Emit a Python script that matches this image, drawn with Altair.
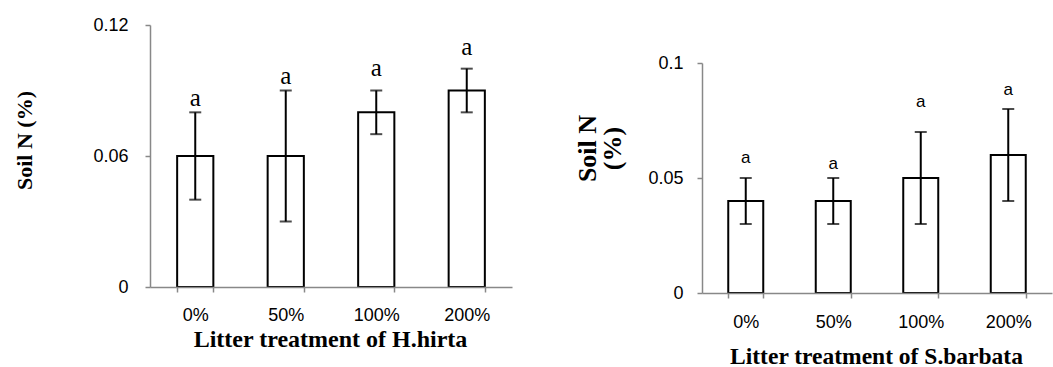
import altair as alt
import pandas as pd

categories = ["0%", "50%", "100%", "200%"]

# Left panel: H.hirta
left_means = [0.06, 0.06, 0.08, 0.09]
left_low = [0.04, 0.03, 0.07, 0.08]
left_high = [0.08, 0.09, 0.09, 0.10]
left_letters = ["a", "a", "a", "a"]
left_letter_y = [0.0866, 0.0966, 0.1003, 0.110]
left_ticks = [0, 0.06, 0.12]

# Right panel: S.barbata
right_means = [0.04, 0.04, 0.05, 0.06]
right_low = [0.03, 0.03, 0.03, 0.04]
right_high = [0.05, 0.05, 0.07, 0.08]
right_letters = ["a", "a", "a", "a"]
right_letter_y = [0.0586, 0.0563, 0.0829, 0.0881]
right_ticks = [0, 0.05, 0.1]

AXIS_GRAY = "#888888"


def panel(means, low, high, letters, letter_y, xrange, yrange, ydomain, yticks,
          yoffset, ylabelpad, ytitle, ytitlesize, ytitlex, ytitley,
          xoffset, xlabelpad, xtitle, xtitlesize, xtitlex, xtitley,
          letter_font, letter_size):
    df = pd.DataFrame({
        "cat": categories,
        "mean": means,
        "lo": low,
        "hi": high,
        "letter": letters,
        "ly": letter_y,
    })
    xaxis = alt.Axis(
        orient="bottom", offset=xoffset, tickBand="extent", grid=False,
        domainColor=AXIS_GRAY, domainWidth=1.5, tickColor=AXIS_GRAY, tickWidth=1.5,
        tickSize=5, labelFont="Liberation Sans", labelFontSize=18, labelColor="black",
        labelAngle=0, labelPadding=xlabelpad, labelBaseline="middle",
        title=xtitle, titleFont="Liberation Serif", titleFontSize=xtitlesize,
        titleFontWeight="bold", titleColor="black", titleX=xtitlex, titleY=xtitley,
        titleAlign="center", titleBaseline="alphabetic", titleAngle=0, zindex=1,
    )
    yaxis = alt.Axis(
        orient="left", offset=yoffset, values=yticks, format="~g", grid=False,
        domainColor=AXIS_GRAY, domainWidth=1.5, tickColor=AXIS_GRAY, tickWidth=1.5,
        tickSize=5, labelFont="Liberation Sans", labelFontSize=18, labelColor="black",
        labelPadding=ylabelpad,
        title=ytitle, titleFont="Liberation Serif", titleFontSize=ytitlesize,
        titleFontWeight="bold", titleColor="black", titleX=ytitlex, titleY=ytitley,
        titleAngle=270, titleAlign="center", titleBaseline="middle",
        titleLineHeight=25, zindex=1,
    )
    x = alt.X("cat:N", sort=categories,
              scale=alt.Scale(domain=categories, range=xrange,
                              paddingInner=0.6, paddingOuter=0.3),
              axis=xaxis)
    y = alt.Y("mean:Q", scale=alt.Scale(domain=ydomain, range=yrange, nice=False, zero=True),
              axis=yaxis)
    xs = alt.X("cat:N", sort=categories)
    base = alt.Chart(df)
    bars = base.mark_bar(fill="white", stroke="black", strokeWidth=2).encode(x=x, y=y)
    rule = base.mark_rule(color="black", strokeWidth=2).encode(
        x=xs, y=alt.Y("lo:Q"), y2="hi:Q")
    cap_hi = base.mark_tick(color="black", size=12, thickness=2).encode(x=xs, y=alt.Y("hi:Q"))
    cap_lo = base.mark_tick(color="black", size=12, thickness=2).encode(x=xs, y=alt.Y("lo:Q"))
    text = base.mark_text(font=letter_font, fontSize=letter_size, color="black",
                          baseline="middle").encode(x=xs, y=alt.Y("ly:Q"), text="letter:N")
    return alt.layer(bars, rule, cap_hi, cap_lo, text)


left = panel(left_means, left_low, left_high, left_letters, left_letter_y,
             [150, 512], [287, 25], [0, 0.12], left_ticks,
             -150, 17, "Soil N (%)", 22, -126, 140,
             -80, 23, "Litter treatment of H.hirta", 24, 330, 59,
             "Liberation Serif", 25)

right = panel(right_means, right_low, right_high, right_letters, right_letter_y,
              [702, 1052], [293, 63], [0, 0.1], right_ticks,
              -702, 14, ["Soil N", "(%)"], 26, -115, 148,
              -74, 24, "Litter treatment of S.barbata", 23.5, 876, 70,
              "Liberation Sans", 17)

chart = alt.layer(left, right).resolve_scale(x="independent", y="independent").properties(
    width=1053, height=367, padding=0, background="white",
    autosize=alt.AutoSizeParams(type="none"),
).configure_view(stroke=None)

chart.save("out.html", embed_options={"renderer": "svg", "actions": False})
